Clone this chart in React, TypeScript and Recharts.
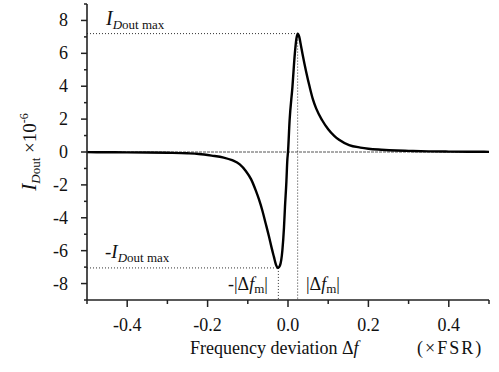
import { Line, LineChart, ReferenceLine, XAxis, YAxis } from "recharts";

// frequency deviation (×FSR) and output current (×10^-6)
const freq = [
  -0.5, -0.45, -0.4, -0.35, -0.3, -0.25, -0.222, -0.19, -0.16, -0.139, -0.12, -0.105, -0.092,
  -0.08, -0.072, -0.064, -0.056, -0.047, -0.041, -0.035, -0.03, -0.025, -0.02, -0.014, -0.01,
  -0.0075, -0.004, -0.0017, 0, 0.004, 0.011, 0.017, 0.021, 0.024, 0.028, 0.032, 0.036, 0.045,
  0.054, 0.062, 0.07, 0.085, 0.1, 0.115, 0.127, 0.152, 0.18, 0.2, 0.232, 0.27, 0.3, 0.35, 0.4,
  0.45, 0.5,
];
const current = [
  -0.01, -0.015, -0.02, -0.03, -0.05, -0.08, -0.12, -0.22, -0.34, -0.5, -0.75, -1.15, -1.65,
  -2.35, -2.9, -3.54, -4.3, -5.17, -5.8, -6.38, -6.85, -7.05, -6.9, -5.98, -4.6,
  -3.34, -1.8, -0.5, 0.0, 1.93, 3.95, 5.98, 6.9, 7.2, 7.0, 6.5, 5.98, 4.9,
  3.95, 3.2, 2.65, 1.93, 1.38, 0.98, 0.74, 0.42, 0.27, 0.2, 0.14, 0.09, 0.07, 0.04, 0.025,
  0.015, 0.01,
];

const xTicks = [-0.5, -0.4, -0.3, -0.2, -0.1, 0, 0.1, 0.2, 0.3, 0.4, 0.5];
const xTickLabels = ["", "-0.4", "", "-0.2", "", "0.0", "", "0.2", "", "0.4", ""];
const yTicks = [-9, -8, -7, -6, -5, -4, -3, -2, -1, 0, 1, 2, 3, 4, 5, 6, 7, 8, 9];
const yTickLabels = ["", "-8", "", "-6", "", "-4", "", "-2", "", "0", "", "2", "", "4", "", "6", "", "8", ""];

const peakF = 0.024;
const peakI = 7.2;
const dipF = -0.024;
const dipI = -7.05;

const data = freq.map((f, i) => ({ f, i: current[i] }));

const FONT = "'Liberation Serif', 'Times New Roman', serif";
const INK = "#222";
const serif = { fontFamily: FONT };

function XTick(props: any) {
  const { x, y, index } = props;
  const label = xTickLabels[index];
  const major = label !== "";
  return (
    <g>
      <line x1={x} y1={y} x2={x} y2={y + (major ? 7 : 4)} stroke={INK} strokeWidth={1.5} />
      {major && (
        <text x={x} y={y + 31} textAnchor="middle" style={{ ...serif, fontSize: 18 }} fill="#111">
          {label}
        </text>
      )}
    </g>
  );
}

function YTick(props: any) {
  const { x, y, index } = props;
  const label = yTickLabels[index];
  const major = label !== "";
  return (
    <g>
      <line x1={x} y1={y} x2={x - (major ? 6 : 3)} y2={y} stroke={INK} strokeWidth={1.5} />
      {major && (
        <text x={x - 19} y={y + 6} textAnchor="end" style={{ ...serif, fontSize: 18 }} fill="#111">
          {label}
        </text>
      )}
    </g>
  );
}

const dotted = { stroke: "#333", strokeWidth: 1, strokeDasharray: "1 2" };

export default function App() {
  return (
    <div style={{ position: "absolute", left: 0, top: 0, width: 499, height: 372, background: "#fff" }}>
      <LineChart width={499} height={372} data={data} margin={{ top: 4, right: 10, bottom: 0, left: 0 }}>
        <XAxis
          dataKey="f"
          type="number"
          domain={[-0.5, 0.5]}
          ticks={xTicks}
          interval={0}
          height={72}
          tickSize={0}
          tickMargin={0}
          tickLine={false}
          axisLine={{ stroke: INK, strokeWidth: 1.6 }}
          tick={<XTick />}
          allowDataOverflow
        />
        <YAxis
          type="number"
          domain={[-9, 9]}
          ticks={yTicks}
          interval={0}
          width={87}
          tickSize={0}
          tickMargin={0}
          tickLine={false}
          axisLine={{ stroke: INK, strokeWidth: 1.6 }}
          tick={<YTick />}
          allowDataOverflow
        />
        <ReferenceLine y={0} stroke="#555" strokeWidth={1} strokeDasharray="3 1" />
        <ReferenceLine segment={[{ x: -0.5, y: peakI }, { x: peakF, y: peakI }]} {...dotted} />
        <ReferenceLine segment={[{ x: peakF, y: peakI }, { x: peakF, y: -9 }]} {...dotted} />
        <ReferenceLine segment={[{ x: -0.5, y: dipI }, { x: dipF, y: dipI }]} {...dotted} />
        <ReferenceLine segment={[{ x: dipF, y: dipI }, { x: dipF, y: -9 }]} {...dotted} />
        <Line
          type="monotone"
          dataKey="i"
          stroke="#000"
          strokeWidth={2.4}
          dot={false}
          isAnimationActive={false}
        />
      </LineChart>

      <svg
        width={499}
        height={372}
        style={{ position: "absolute", left: 0, top: 0, pointerEvents: "none", ...serif }}
        fill="#111"
      >
        {/* y axis title */}
        <text transform="translate(36,152) rotate(-90)" textAnchor="middle" fontSize={19}>
          <tspan fontStyle="italic" fontSize={21}>I</tspan>
          <tspan fontStyle="italic" fontSize={13} dy={4}>D</tspan>
          <tspan fontSize={13}>out</tspan>
          <tspan dy={-4}> ×10</tspan>
          <tspan fontSize={12} dy={-8}>-6</tspan>
        </text>

        {/* x axis title */}
        <text x={190} y={354} fontSize={18}>
          Frequency deviation Δ<tspan fontStyle="italic">f</tspan>
        </text>
        <text x={417} y={354} fontSize={18} letterSpacing={2}>
          (×FSR)
        </text>

        {/* annotations */}
        <text x={106} y={25} fontSize={20}>
          <tspan fontStyle="italic">I</tspan>
          <tspan fontSize={13} dy={4} fontStyle="italic">D</tspan>
          <tspan fontSize={13}>out max</tspan>
        </text>
        <text x={105} y={258} fontSize={19}>
          -<tspan fontStyle="italic">I</tspan>
          <tspan fontSize={13} dy={4} fontStyle="italic">D</tspan>
          <tspan fontSize={13}>out max</tspan>
        </text>
        <text x={228} y={290} fontSize={18}>
          -|Δ<tspan fontStyle="italic">f</tspan>
          <tspan fontSize={13} dy={3}>m</tspan>
          <tspan dy={-3}>|</tspan>
        </text>
        <text x={306} y={290} fontSize={18}>
          |Δ<tspan fontStyle="italic">f</tspan>
          <tspan fontSize={13} dy={3}>m</tspan>
          <tspan dy={-3}>|</tspan>
        </text>
      </svg>
    </div>
  );
}
